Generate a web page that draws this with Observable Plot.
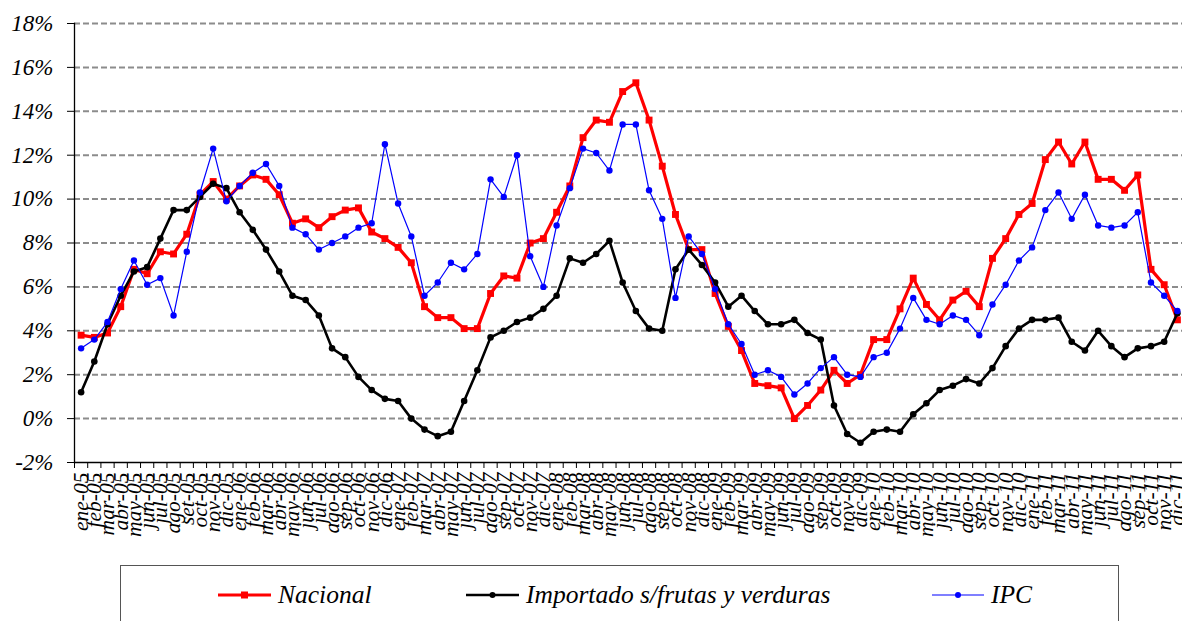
<!DOCTYPE html>
<html>
<head>
<meta charset="utf-8">
<script src="https://cdn.jsdelivr.net/npm/d3@7"></script>
<script src="https://cdn.jsdelivr.net/npm/@observablehq/plot@0.6"></script>
<style>
  html, body { margin: 0; padding: 0; background: #fff; overflow: hidden; }
  #wrap { position: relative; width: 1182px; height: 621px; }
  #legend { position: absolute; left: 120px; top: 565px; width: 999px; height: 80px;
            border: 1px solid #555; box-sizing: border-box; background: #fff;
            font-family: "Liberation Serif", serif; font-style: italic; font-size: 25.5px; color: #000; }
  .item { position: absolute; top: 14px; display: flex; align-items: center; white-space: nowrap; }
  .item svg { margin-right: 7px; }
</style>
</head>
<body>
<div id="wrap">
  <div id="chart"></div>
  <div id="legend">
    <div class="item" style="left:97px">
      <svg width="53" height="14"><line x1="0" y1="7" x2="53" y2="7" stroke="#ff0000" stroke-width="3"/><rect x="23" y="3.5" width="7" height="7" fill="#ff0000"/></svg>
      <span>Nacional</span>
    </div>
    <div class="item" style="left:345px">
      <svg width="53" height="14"><line x1="0" y1="7" x2="53" y2="7" stroke="#000" stroke-width="2.5"/><circle cx="26.5" cy="7" r="3" fill="#000"/></svg>
      <span>Importado s/frutas y verduras</span>
    </div>
    <div class="item" style="left:811px">
      <svg width="52" height="14"><line x1="0" y1="7" x2="52" y2="7" stroke="#0000ff" stroke-width="1.2"/><circle cx="26" cy="7" r="3" fill="#0000ff"/></svg>
      <span>IPC</span>
    </div>
  </div>
</div>
<script>
const meses = [
  "ene-05","feb-05","mar-05","abr-05","may-05","jun-05","jul-05","ago-05","set-05","oct-05","nov-05","dic-05",
  "ene-06","feb-06","mar-06","abr-06","may-06","jun-06","jul-06","ago-06","sep-06","oct-06","nov-06","dic-06",
  "ene-07","feb-07","mar-07","abr-07","may-07","jun-07","jul-07","ago-07","sep-07","oct-07","nov-07","dic-07",
  "ene-08","feb-08","mar-08","abr-08","may-08","jun-08","jul-08","ago-08","sep-08","oct-08","nov-08","dic-08",
  "ene-09","feb-09","mar-09","abr-09","may-09","jun-09","jul-09","ago-09","sep-09","oct-09","nov-09","dic-09",
  "ene-10","feb-10","mar-10","abr-10","may-10","jun-10","jul-10","ago-10","sep-10","oct-10","nov-10","dic-10",
  "ene-11","feb-11","mar-11","abr-11","may-11","jun-11","jul-11","ago-11","sep-11","oct-11","nov-11","dic-11"
];

const nacional = [
  3.8,3.7,3.9,5.1,6.8,6.6,7.6,7.5,8.4,10.2,10.8,10.0,
  10.6,11.1,10.9,10.2,8.9,9.1,8.7,9.2,9.5,9.6,8.5,8.2,
  7.8,7.1,5.1,4.6,4.6,4.1,4.1,5.7,6.5,6.4,8.0,8.2,
  9.4,10.6,12.8,13.6,13.5,14.9,15.3,13.6,11.5,9.3,7.7,7.7,
  5.7,4.2,3.1,1.6,1.5,1.4,0.0,0.6,1.3,2.2,1.6,2.0,
  3.6,3.6,5.0,6.4,5.2,4.5,5.4,5.8,5.1,7.3,8.2,9.3,
  9.8,11.8,12.6,11.6,12.6,10.9,10.9,10.4,11.1,6.8,6.1,4.5
];

const importado = [
  1.2,2.6,4.3,5.6,6.7,6.9,8.2,9.5,9.5,10.1,10.7,10.5,
  9.4,8.6,7.7,6.7,5.6,5.4,4.7,3.2,2.8,1.9,1.3,0.9,
  0.8,0.0,-0.5,-0.8,-0.6,0.8,2.2,3.7,4.0,4.4,4.6,5.0,
  5.6,7.3,7.1,7.5,8.1,6.2,4.9,4.1,4.0,6.8,7.7,7.0,
  6.2,5.1,5.6,4.9,4.3,4.3,4.5,3.9,3.6,0.6,-0.7,-1.1,
  -0.6,-0.5,-0.6,0.2,0.7,1.3,1.5,1.8,1.6,2.3,3.3,4.1,
  4.5,4.5,4.6,3.5,3.1,4.0,3.3,2.8,3.2,3.3,3.5,4.8
];

const ipc = [
  3.2,3.6,4.4,5.9,7.2,6.1,6.4,4.7,7.6,10.3,12.3,9.9,
  10.6,11.2,11.6,10.6,8.7,8.4,7.7,8.0,8.3,8.7,8.9,12.5,
  9.8,8.3,5.6,6.2,7.1,6.8,7.5,10.9,10.1,12.0,7.4,6.0,
  8.8,10.5,12.3,12.1,11.3,13.4,13.4,10.4,9.1,5.5,8.3,7.5,
  5.9,4.3,3.4,2.0,2.2,1.9,1.1,1.6,2.3,2.8,2.0,1.9,
  2.8,3.0,4.1,5.5,4.5,4.3,4.7,4.5,3.8,5.2,6.1,7.2,
  7.8,9.5,10.3,9.1,10.2,8.8,8.7,8.8,9.4,6.2,5.6,4.9
];

const yTicks = [-2,0,2,4,6,8,10,12,14,16,18];
const gridTicks = [0,2,4,6,8,10,12,14,16,18];

const rows = (vals) => meses.map((m, i) => ({mes: m, v: vals[i]}));
const dNac = rows(nacional), dImp = rows(importado), dIpc = rows(ipc);

const x0 = 74, x1 = 1183.5;
const bw = (x1 - x0) / meses.length;

const chart = Plot.plot({
  width: 1182,
  height: 560,
  marginLeft: 74,
  marginRight: 0,
  marginTop: 23,
  marginBottom: 98,
  style: { fontFamily: "'Liberation Serif', serif", fontStyle: "italic", background: "#fff", color: "#000" },
  x: { type: "band", domain: meses, range: [x0, x1], padding: 0, round: false },
  y: { domain: [-2, 18], range: [462, 23] },
  marks: [
    Plot.ruleY(gridTicks, { stroke: "#8c8c8c", strokeWidth: 2, strokeDasharray: "6,3" }),
    Plot.ruleY([-2], { stroke: "#000", strokeWidth: 1.3 }),
    Plot.frame({ anchor: "left", stroke: "#000", strokeWidth: 1.3 }),
    Plot.axisY({ ticks: yTicks, tickFormat: d => `${d}%`, tickSize: 7, tickPadding: 14, fontSize: 23, label: null }),
    Plot.axisX({ tickSize: 6, tickFormat: () => "", dx: -bw / 2, label: null }),
    Plot.axisX({ tickSize: 0, tickRotate: -90, tickPadding: 10, fontSize: 21.5, label: null }),
    Plot.line(dNac, { x: "mes", y: "v", stroke: "#ff0000", strokeWidth: 3.2 }),
    Plot.dot(dNac, { x: "mes", y: "v", symbol: "square", r: 3.9, fill: "#ff0000" }),
    Plot.line(dImp, { x: "mes", y: "v", stroke: "#000", strokeWidth: 2.6 }),
    Plot.dot(dImp, { x: "mes", y: "v", r: 3.3, fill: "#000" }),
    Plot.line(dIpc, { x: "mes", y: "v", stroke: "#0000ff", strokeWidth: 1.2 }),
    Plot.dot(dIpc, { x: "mes", y: "v", r: 3.2, fill: "#0000ff" })
  ]
});
document.getElementById("chart").appendChild(chart);
</script>
</body>
</html>
